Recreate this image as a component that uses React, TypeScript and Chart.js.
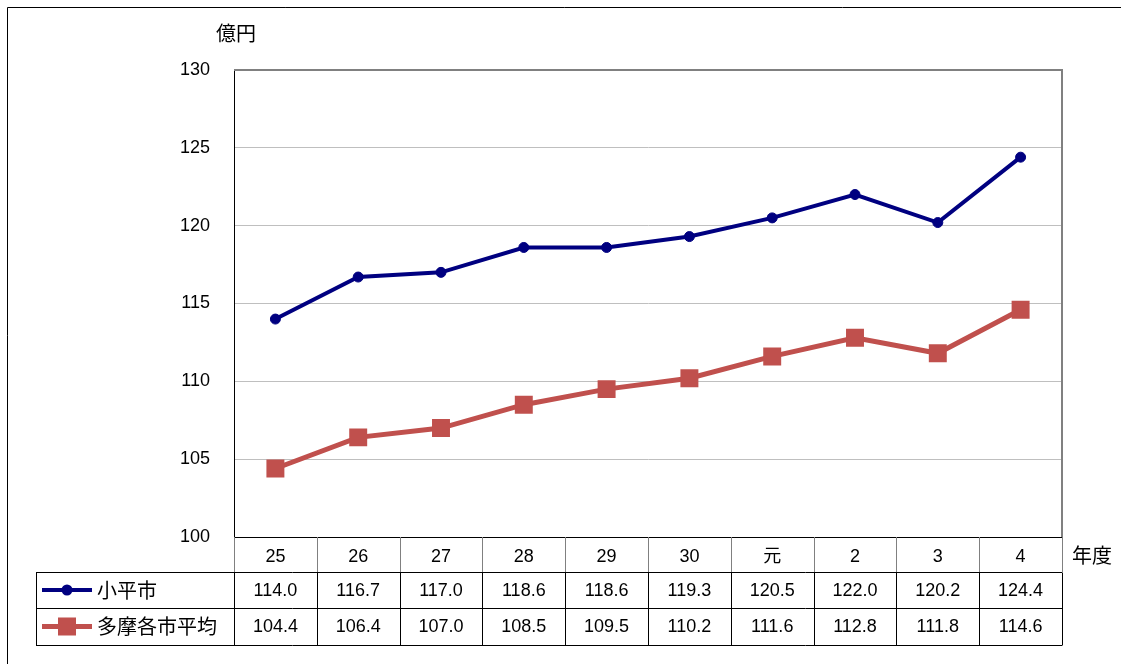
import React, { useEffect, useRef } from "react";
import { Chart, registerables } from "chart.js";

Chart.register(...registerables);

const categories = ["25", "26", "27", "28", "29", "30", "元", "2", "3", "4"];
const kodairaValues = [114.0, 116.7, 117.0, 118.6, 118.6, 119.3, 120.5, 122.0, 120.2, 124.4];
const tamaAverageValues = [104.4, 106.4, 107.0, 108.5, 109.5, 110.2, 111.6, 112.8, 111.8, 114.6];
const seriesNames = ["小平市", "多摩各市平均"];
const yMin = 100;
const yMax = 130;
const yStep = 5;
const yUnitLabel = "億円";
const xUnitLabel = "年度";

const NUM_FONT = '"Liberation Sans", "Noto Sans CJK JP", sans-serif';
const JP_FONT = '"Noto Sans CJK JP", "Liberation Sans", sans-serif';
const BLUE = "#000080";
const RED = "#C0504D";

const tablePlugin = {
  id: "dataTable",
  afterDraw(chart: any) {
    const ctx = chart.ctx as CanvasRenderingContext2D;
    const { left, right, top, bottom } = chart.chartArea;
    const xs = chart.scales.x;
    const n = categories.length;
    const centers = categories.map((_, i) => xs.getPixelForValue(i));
    const bounds: number[] = [left];
    for (let i = 1; i < n; i++) bounds.push((centers[i - 1] + centers[i]) / 2);
    bounds.push(right);
    const headerBottom = bottom + 35;
    const row1Bottom = bottom + 71;
    const row2Bottom = bottom + 108;
    const legendLeft = 36;
    const snap = (v: number) => Math.round(v) + 0.5;

    ctx.save();
    // outer frame
    ctx.strokeStyle = "#000";
    ctx.lineWidth = 1;
    ctx.beginPath();
    ctx.moveTo(7.5, 664);
    ctx.lineTo(7.5, 7.5);
    ctx.lineTo(1121, 7.5);
    ctx.stroke();

    // plot top & right border
    ctx.strokeStyle = "#808080";
    ctx.lineWidth = 2;
    ctx.beginPath();
    ctx.moveTo(left, top);
    ctx.lineTo(right, top);
    ctx.lineTo(right, bottom);
    ctx.stroke();

    // header verticals
    ctx.lineWidth = 1;
    ctx.strokeStyle = "#808080";
    ctx.beginPath();
    for (const b of bounds) {
      ctx.moveTo(snap(b), bottom);
      ctx.lineTo(snap(b), headerBottom);
    }
    ctx.stroke();

    // data row lines
    ctx.strokeStyle = "#000";
    ctx.beginPath();
    for (const yy of [headerBottom, row1Bottom, row2Bottom]) {
      ctx.moveTo(legendLeft, snap(yy));
      ctx.lineTo(right, snap(yy));
    }
    ctx.moveTo(snap(legendLeft), snap(headerBottom));
    ctx.lineTo(snap(legendLeft), snap(row2Bottom));
    for (const b of bounds) {
      ctx.moveTo(snap(b), snap(headerBottom));
      ctx.lineTo(snap(b), snap(row2Bottom));
    }
    ctx.stroke();

    // values
    ctx.fillStyle = "#000";
    ctx.font = `18px ${NUM_FONT}`;
    ctx.textAlign = "center";
    ctx.textBaseline = "middle";
    const r1 = (headerBottom + row1Bottom) / 2;
    const r2 = (row1Bottom + row2Bottom) / 2;
    centers.forEach((cx, i) => {
      ctx.fillText(kodairaValues[i].toFixed(1), cx, r1 + 1);
      ctx.fillText(tamaAverageValues[i].toFixed(1), cx, r2 + 1);
    });

    // legend keys
    ctx.lineCap = "butt";
    ctx.strokeStyle = BLUE;
    ctx.lineWidth = 4;
    ctx.beginPath();
    ctx.moveTo(42, r1);
    ctx.lineTo(92, r1);
    ctx.stroke();
    ctx.fillStyle = BLUE;
    ctx.beginPath();
    ctx.arc(67, r1, 5.5, 0, Math.PI * 2);
    ctx.fill();

    ctx.strokeStyle = RED;
    ctx.lineWidth = 5;
    ctx.beginPath();
    ctx.moveTo(42, r2);
    ctx.lineTo(92, r2);
    ctx.stroke();
    ctx.fillStyle = RED;
    ctx.fillRect(58, r2 - 9, 18, 18);

    ctx.fillStyle = "#000";
    ctx.font = `20px ${JP_FONT}`;
    ctx.textAlign = "left";
    ctx.fillText(seriesNames[0], 97, r1);
    ctx.fillText(seriesNames[1], 97, r2);

    // unit labels
    ctx.textAlign = "center";
    ctx.fillText(yUnitLabel, 236, 33);
    ctx.fillText(xUnitLabel, 1092, 555);
    ctx.restore();
  },
};

export default function App() {
  const canvasRef = useRef<HTMLCanvasElement | null>(null);

  useEffect(() => {
    if (!canvasRef.current) return;
    const chart = new Chart(canvasRef.current, {
      type: "line",
      data: {
        labels: categories,
        datasets: [
          {
            label: seriesNames[0],
            data: kodairaValues,
            borderColor: BLUE,
            backgroundColor: BLUE,
            borderWidth: 4,
            pointStyle: "circle",
            pointRadius: 5,
            pointBorderWidth: 1,
            pointBackgroundColor: BLUE,
            pointBorderColor: BLUE,
            tension: 0,
          },
          {
            label: seriesNames[1],
            data: tamaAverageValues,
            borderColor: RED,
            backgroundColor: RED,
            borderWidth: 5,
            pointStyle: "rect",
            pointRadius: 12.7,
            pointBorderWidth: 0,
            pointBackgroundColor: RED,
            pointBorderColor: RED,
            tension: 0,
          },
        ],
      },
      options: {
        animation: false,
        responsive: false,
        maintainAspectRatio: false,
        layout: { padding: { top: 70, right: 59, left: 0, bottom: 0 } },
        plugins: {
          legend: { display: false },
          tooltip: { enabled: false },
          title: { display: false },
        },
        scales: {
          x: {
            offset: true,
            grid: { display: false, drawTicks: false },
            border: { display: true, color: "#000", width: 1 },
            ticks: {
              color: "#000",
              font: { family: NUM_FONT, size: 18 },
              padding: 9,
              maxRotation: 0,
              autoSkip: false,
            },
            afterFit: (scale: any) => {
              scale.height = 127;
            },
          },
          y: {
            min: yMin,
            max: yMax,
            grid: { color: "#bfbfbf", lineWidth: 1, drawTicks: false },
            border: { display: true, color: "#000", width: 1 },
            ticks: {
              stepSize: yStep,
              color: "#000",
              font: { family: NUM_FONT, size: 18 },
              padding: 24,
            },
            afterFit: (scale: any) => {
              scale.width = 234;
            },
          },
        },
      },
      plugins: [tablePlugin],
    });
    return () => chart.destroy();
  }, []);

  return (
    <div style={{ position: "absolute", left: 0, top: 0, width: 1121, height: 664, background: "#fff" }}>
      <canvas ref={canvasRef} width={1121} height={664} />
    </div>
  );
}
